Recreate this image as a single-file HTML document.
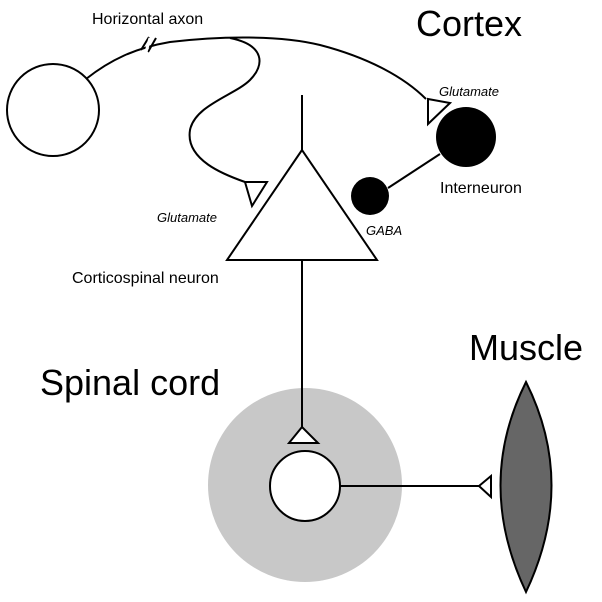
<!DOCTYPE html>
<html><head><style>body{margin:0;background:#fff}svg{display:block}</style></head><body>
<svg width="602" height="602" viewBox="0 0 602 602" xmlns="http://www.w3.org/2000/svg" font-family="Liberation Sans, sans-serif">
<rect width="602" height="602" fill="#fff"/>
<g fill="none" stroke="#000" stroke-width="2">
<circle cx="53" cy="110" r="46"/>
<path d="M86 79 C110 60 135 48 170 42 C220 36 280 35 320 45 C370 58 405 78 426 99"/>
<path d="M230 38 C265 45 265 65 250 80 C235 95 195 105 190 130 C185 160 225 175 245 182"/>
<line x1="141" y1="50" x2="149" y2="37" /><line x1="148" y1="52" x2="156" y2="38"/>
</g>
<line x1="146" y1="52" x2="150" y2="38" stroke="#fff" stroke-width="3"/>
<g stroke="#000" stroke-width="2" fill="#fff">
<polygon points="245,182 267,182 252,206"/>
<polygon points="428,99 450,103 428,124"/>
<line x1="302" y1="95" x2="302" y2="150"/>
<polygon points="302,150 227,260 377,260"/>
<line x1="388" y1="188" x2="440" y2="154"/>
</g>
<circle cx="466" cy="137" r="30" fill="#000"/>
<circle cx="370" cy="196" r="19" fill="#000"/>
<circle cx="305" cy="485" r="97" fill="#c8c8c8"/>
<g stroke="#000" stroke-width="2" fill="#fff">
<line x1="302" y1="260" x2="302" y2="428"/>
<polygon points="302,427 289,443 318,443"/>
<circle cx="305" cy="486" r="35"/>
<line x1="340" y1="486" x2="479" y2="486"/>
<polygon points="479,486 491,476 491,497"/>
<path d="M526 382 C492 450 492 520 526 592 C560 520 560 450 526 382 Z" fill="#666"/>
</g>
<g fill="#000">
<text x="92" y="24" font-size="16">Horizontal axon</text>
<text x="416" y="36" font-size="36">Cortex</text>
<text x="439" y="96" font-size="13" font-style="italic">Glutamate</text>
<text x="157" y="222" font-size="13" font-style="italic">Glutamate</text>
<text x="366" y="235" font-size="13" font-style="italic">GABA</text>
<text x="440" y="193" font-size="16">Interneuron</text>
<text x="72" y="283" font-size="16">Corticospinal neuron</text>
<text x="40" y="395" font-size="36">Spinal cord</text>
<text x="469" y="360" font-size="36">Muscle</text>
</g>
</svg>
</body></html>
